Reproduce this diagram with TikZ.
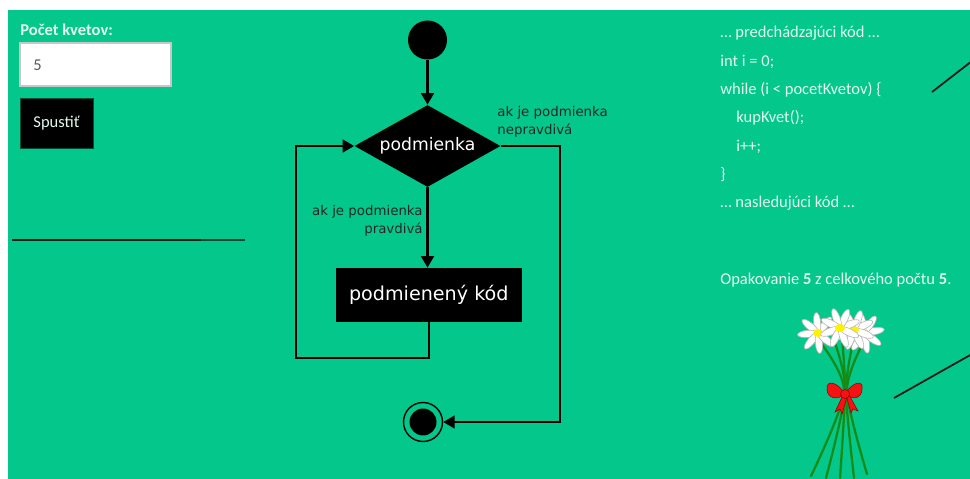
\documentclass[tikz,border=0pt]{standalone}
\usepackage{fontspec}
\setmainfont{Carlito}
\newfontfamily\flowfont{DejaVu Sans}
\usepackage{tikz}
\usetikzlibrary{
    shapes.geometric,
    arrows.meta,
    positioning,
    calc
}
\definecolor{pagegreen}{RGB}{3,199,139}
\definecolor{paletext}{RGB}{228,248,238}
\definecolor{stemgreen}{RGB}{22,140,22}
\definecolor{bowred}{RGB}{245,18,18}

% one daisy: eight petals round a yellow heart
\newcommand{\daisy}[3]{%
    \foreach \a in {0,45,...,315} {
        \filldraw[fill=white, draw=black!28, line width=0.35pt,
                  rotate around={\a+#3:(#1,#2)}]
            (#1+10,#2) ellipse [x radius=10.5, y radius=3.6];
    }
    \fill[yellow] (#1,#2) ellipse [x radius=5, y radius=4];
}

\begin{document}
\begin{tikzpicture}[
            x=0.02cm, y=-0.02cm,
            ui/.style={font=\fontsize{9.4}{11}\selectfont, text=paletext, inner sep=0pt},
            codeline/.style={ui, anchor=west},
            startdot/.style={circle, fill=black, minimum size=0.78cm, inner sep=0pt},
            decision/.style={diamond, fill=black, aspect=1.78, minimum width=2.92cm, minimum height=1.64cm,
                             inner sep=0pt, text=white, font=\flowfont\fontsize{9.8}{11}\selectfont},
            action/.style={rectangle, fill=black, minimum width=3.73cm, minimum height=1.08cm,
                           text=white, font=\flowfont\fontsize{10.9}{12}\selectfont},
            lbl/.style={font=\flowfont\fontsize{7.6}{10.2}\selectfont, text=black!85, inner sep=0pt},
            arr/.style={-{Triangle[length=6.5pt, width=7.2pt]}, line width=1.3pt},
            stem/.style={draw=stemgreen, line width=1.3pt, line cap=round},
            slash/.style={draw=black!90, line width=1pt}
        ]
            \useasboundingbox (0,0) rectangle (970,479);
            \fill[pagegreen] (8,10) rectangle (970,479);

            % ====== Form ======
            \node[ui, font=\bfseries\fontsize{9.4}{11}\selectfont, anchor=base west] (countlbl) at (20,35.5) {Počet kvetov:};
            \node[rectangle, fill=white, draw=black!22, line width=0.6pt, minimum width=3.02cm,
                  minimum height=0.86cm, inner sep=0pt] (countbox) at (95.5,64.5) {};
            \node[ui, text=black!65, anchor=west] (countval) at (33,65) {5};
            \node[ui, fill=black, draw=pagegreen!40!black, minimum width=1.46cm, minimum height=1cm] (runbtn) at (56.5,123) {Spustiť};

            \draw[line width=1.2pt, black!85!pagegreen] (12,240) -- (201,240);
            \draw[line width=1.2pt, black!65!pagegreen] (201,240) -- (245,240);

            % ====== Flowchart ======
            \node[startdot] (start) at (427.5,40) {};
            \node[decision] (cond) at (427.5,146) {podmienka};
            \node[action] (body) at (428.8,295) {podmienený kód};
            \node[circle, draw, line width=0.8pt, minimum size=0.78cm, inner sep=0pt] (stop) at (423,422) {};
            \node[startdot, minimum size=0.54cm] (stopdot) at (stop) {};

            \coordinate (loopcorner) at (296,358);
            \coordinate (falsecorner) at (560,422);

            \draw[arr] (start) -- (cond.north);
            \draw[arr] (cond.south) -- (cond.south |- body.north);
            \draw[arr] (body.south) |- (loopcorner) |- (cond.west);
            \draw[arr] (cond.east) -| (falsecorner) -- (stop.east);

            \node[lbl, anchor=east, align=right] (truelbl) at (423,221) {ak je podmienka\\pravdivá};
            \node[lbl, anchor=west, align=left] (falselbl) at (497,122) {ak je podmienka\\nepravdivá};

            % ====== Code listing ======
            \node[codeline] (code1) at (720,33) {… predchádzajúci kód …};
            \node[codeline] (code2) at (720,62) {int i = 0;};
            \node[codeline] (code3) at (720,90) {while (i < pocetKvetov) \{};
            \node[codeline] (code4) at (736,118) {kupKvet();};
            \node[codeline] (code5) at (736,147) {i++;};
            \node[codeline] (code6) at (720,175) {\}};
            \node[codeline] (code7) at (720,203) {… nasledujúci kód …};

            \node[codeline] (progress) at (720,280) {Opakovanie \textbf{5} z celkového počtu \textbf{5}.};

            \draw[slash] (932,92) -- (972,61);
            \draw[slash] (894,398) -- (972,354);

            % ====== Bouquet ======
            \draw[stem] plot[smooth] coordinates {(820,342) (844,392) (811,476)};
            \draw[stem] plot[smooth] coordinates {(834,340) (845,392) (826,478)};
            \draw[stem] plot[smooth] coordinates {(842,338) (845,392) (840,478)};
            \draw[stem] plot[smooth] coordinates {(853,342) (846,392) (854,478)};
            \draw[stem] plot[smooth] coordinates {(862,345) (847,392) (867,474)};

            \daisy{864}{333}{10}
            \daisy{854}{330}{25}
            \daisy{818}{333}{5}
            \daisy{840}{328}{20}

            \filldraw[fill=bowred, draw=red!55!black, line width=0.3pt]
                (845,394) .. controls (837,381) and (826,380) .. (827,389)
                          .. controls (827,398) and (837,401) .. (845,394);
            \filldraw[fill=bowred, draw=red!55!black, line width=0.3pt]
                (845,394) .. controls (853,381) and (864,380) .. (862,389)
                          .. controls (862,398) and (853,401) .. (845,394);
            \filldraw[fill=bowred, draw=red!55!black, line width=0.3pt]
                (843,395) -- (835,412) -- (840,409) -- (842,414) -- (847,397) -- cycle;
            \filldraw[fill=bowred, draw=red!55!black, line width=0.3pt]
                (846,395) -- (851,413) -- (853,409) -- (858,411) -- (849,395) -- cycle;
            \filldraw[fill=bowred, draw=red!55!black, line width=0.3pt] (845,394) circle [radius=4.5];
        \end{tikzpicture}
\end{document}
